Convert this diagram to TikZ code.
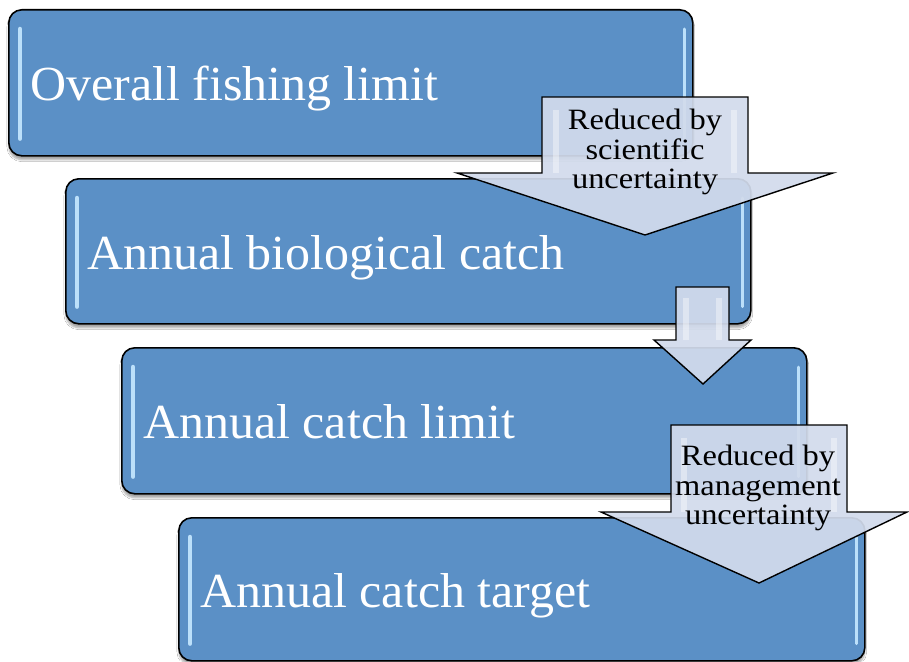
\documentclass[tikz,border=0pt]{standalone}
\usepackage{fontspec}
\setmainfont{Liberation Serif}
\newfontfamily\stagefont[FakeStretch=1.02]{Liberation Serif}
\newfontfamily\arrfont[FakeStretch=1.1]{Liberation Serif}
\usetikzlibrary{shadows.blur}
\definecolor{boxblue}{RGB}{91,144,198}
\definecolor{arrowfill}{RGB}{210,219,236}
\definecolor{glow}{RGB}{188,224,250}
\tikzset{
 stagebox/.style={draw=black, line width=1.6pt, fill=boxblue, rounded corners=13pt,
   blur shadow={shadow xshift=0pt, shadow yshift=-4pt, shadow opacity=35, shadow blur steps=6}},
 stagetext/.style={text=white, font=\stagefont\fontsize{49}{55}\selectfont, inner sep=0pt, anchor=base west},
 blockarrow/.style={draw=black, line width=1.4pt, fill=arrowfill, fill opacity=0.93, line join=miter},
 arrowtext/.style={font=\arrfont\fontsize{29.5}{29.5}\selectfont, align=center, inner sep=0pt, text=black},
 gloss/.style={line width=4.5pt, glow, line cap=round},
 rgloss/.style={line width=3pt, glow, line cap=round},
 agloss/.style={line width=6pt, white, opacity=0.4},
}
\begin{document}
\begin{tikzpicture}[x=1pt,y=-1pt]
\path[use as bounding box, fill=white] (0,0) rectangle (909,661);

% stage boxes
\node[stagebox, minimum width=684pt, minimum height=146pt, anchor=north west] (b1) at (8,9) {};
\node[stagebox, minimum width=685pt, minimum height=145pt, anchor=north west] (b2) at (65,178) {};
\node[stagebox, minimum width=685pt, minimum height=146pt, anchor=north west] (b3) at (121,347) {};
\node[stagebox, minimum width=686pt, minimum height=143pt, anchor=north west] (b4) at (178,517) {};

% glossy highlights
\foreach \b in {b1,b2,b3,b4}{
  \draw[gloss] ([xshift=12pt,yshift=-20pt]\b.north west) -- ([xshift=12pt,yshift=18pt]\b.south west);
  \draw[rgloss] ([xshift=-9pt,yshift=-20pt]\b.north east) -- ([xshift=-9pt,yshift=18pt]\b.south east);
}

% stage texts
\node[stagetext] (t1) at (30,100) {Overall fishing limit};
\node[stagetext] (t2) at (87,269) {Annual biological catch};
\node[stagetext] (t3) at (143,438) {Annual catch limit};
\node[stagetext] (t4) at (200,607) {Annual catch target};

% block arrows
\draw[blockarrow] (542,97) -- (748,97) -- (748,173) -- (833,173) -- (645,235) -- (457,173) -- (542,173) -- cycle;
\draw[agloss] (556,110) -- (556,173);
\draw[agloss] (734,110) -- (734,173);

\draw[blockarrow] (676,287) -- (729,287) -- (729,340) -- (751,340) -- (703,384) -- (654,340) -- (676,340) -- cycle;
\draw[agloss] (686,298) -- (686,340);
\draw[agloss] (719,298) -- (719,340);

\draw[blockarrow] (671,425) -- (847,425) -- (847,512) -- (907,512) -- (759,583) -- (601,512) -- (671,512) -- cycle;
\draw[agloss] (684,438) -- (684,512);
\draw[agloss] (834,438) -- (834,512);

% arrow texts
\node[arrowtext] (a1) at (645,152) {Reduced by\\scientific\\uncertainty};
\node[arrowtext] (a3) at (758,488) {Reduced by\\management\\uncertainty};
\end{tikzpicture}
\end{document}
